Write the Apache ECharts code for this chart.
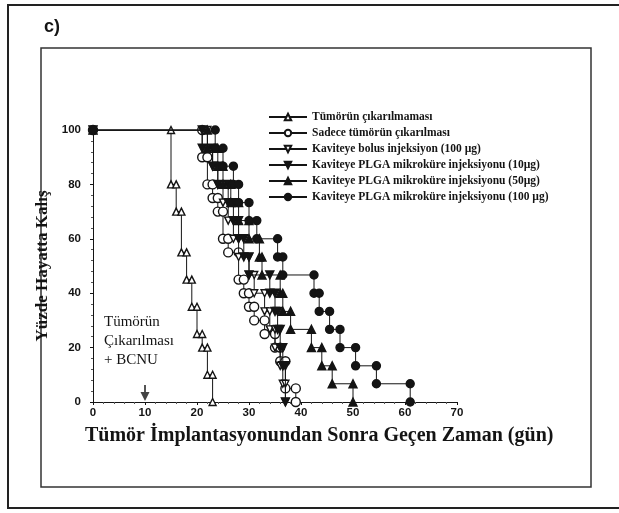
<!DOCTYPE html>
<html>
<head>
<meta charset="utf-8">
<script src="https://cdn.jsdelivr.net/npm/echarts@6/dist/echarts.min.js"></script>
<style>
  html, body { margin: 0; padding: 0; background: #fff; }
  #chart { width: 619px; height: 513px; }
</style>
</head>
<body>
<div id="chart"></div>
<script>
// Kaplan-Meier survival: drop days and survival (%) after each drop
const seriesNames = [
  'Tümörün çıkarılmaması',
  'Sadece tümörün çıkarılması',
  'Kaviteye bolus injeksiyon (100 µg)',
  'Kaviteye PLGA mikroküre injeksiyonu (10µg)',
  'Kaviteye PLGA mikroküre injeksiyonu (50µg)',
  'Kaviteye PLGA mikroküre injeksiyonu (100 µg)'
];

const noResectionDays = [15, 16, 17, 18, 19, 20, 21, 22, 23];
const noResectionSurv = [80, 70, 55, 45, 35, 25, 20, 10, 0];

const resectionDays = [21, 22, 23, 24, 25, 26, 28, 29, 30, 31, 33, 35, 36, 37, 39];
const resectionSurv = [90, 80, 75, 70, 60, 55, 45, 40, 35, 30, 25, 20, 15, 5, 0];

const bolusDays = [22, 23, 24, 25, 26, 27, 28, 30, 31, 33, 34, 35, 36, 36.5, 37];
const bolusSurv = [93.3, 86.7, 80, 73.3, 66.7, 60, 53.3, 46.7, 40, 33.3, 26.7, 20, 13.3, 6.7, 0];

const plga10Days = [21, 23, 24, 26, 27, 28, 29, 30, 34, 35, 35.5, 36, 36.5, 37];
const plga10Surv = [93.3, 86.7, 80, 73.3, 66.7, 60, 53.3, 46.7, 40, 33.3, 26.7, 20, 13.3, 0];

const plga50Days = [22, 24, 25, 26.5, 28, 30, 32, 32.5, 36, 36.5, 38, 42, 44, 46, 50];
const plga50Surv = [93.3, 86.7, 80, 73.3, 66.7, 60, 53.3, 46.7, 40, 33.3, 26.7, 20, 13.3, 6.7, 0];

const plga100Days = [23.5, 25, 27, 28, 30, 31.5, 35.5, 36.5, 42.5, 43.5, 45.5, 47.5, 50.5, 54.5, 61];
const plga100Surv = [93.3, 86.7, 80, 73.3, 66.7, 60, 53.3, 46.7, 40, 33.3, 26.7, 20, 13.3, 6.7, 0];

const xTicks = [0, 10, 20, 30, 40, 50, 60, 70];
const yTicks = [0, 20, 40, 60, 80, 100];
const bcnuDay = 10;
const noteLines = ['Tümörün', 'Çıkarılması', '+ BCNU'];

// Expand drops into step-curve vertices (both ends of every horizontal run)
function kmPoints(days, surv) {
  const pts = [[0, 100]];
  let prev = 100;
  for (let i = 0; i < days.length; i++) {
    pts.push([days[i], prev]);
    pts.push([days[i], surv[i]]);
    prev = surv[i];
  }
  return pts;
}

const INK = '#141414';
const serif = '"Liberation Serif", "DejaVu Serif", serif';
const sans = '"Liberation Sans", Arial, sans-serif';

const markerDefs = [
  { symbol: 'triangle', size: 7, fill: '#fff', rotate: 0 },
  { symbol: 'circle', size: 9, fill: '#fff', rotate: 0 },
  { symbol: 'triangle', size: 7, fill: '#fff', rotate: 180 },
  { symbol: 'triangle', size: 8, fill: INK, rotate: 180 },
  { symbol: 'triangle', size: 8, fill: INK, rotate: 0 },
  { symbol: 'circle', size: 8, fill: INK, rotate: 0 }
];

const curveData = [
  kmPoints(noResectionDays, noResectionSurv),
  kmPoints(resectionDays, resectionSurv),
  kmPoints(bolusDays, bolusSurv),
  kmPoints(plga10Days, plga10Surv),
  kmPoints(plga50Days, plga50Surv),
  kmPoints(plga100Days, plga100Surv)
];

const series = curveData.map((data, i) => ({
  name: seriesNames[i],
  type: 'line',
  data: data,
  symbol: markerDefs[i].symbol,
  symbolSize: markerDefs[i].size,
  symbolRotate: markerDefs[i].rotate,
  showAllSymbol: true,
  animation: false,
  lineStyle: { color: INK, width: 1 },
  itemStyle: { color: markerDefs[i].fill, borderColor: INK, borderWidth: 1.4 },
  emphasis: { disabled: true },
  z: 2 + i
}));

// arrow marking the BCNU day
series.push({
  type: 'scatter',
  data: [[bcnuDay, 0]],
  symbol: 'path://M4,0 L6,0 L6,8 L10,8 L5,18 L0,8 L4,8 Z',
  symbolSize: [9, 16],
  symbolOffset: [0, -9],
  itemStyle: { color: INK },
  silent: true,
  animation: false,
  z: 10
});

const chart = echarts.init(document.getElementById('chart'), null, { renderer: 'canvas' });

chart.setOption({
  backgroundColor: '#fff',
  animation: false,
  grid: { left: 93, right: 162, top: 130, bottom: 111 },
  legend: {
    data: seriesNames,
    orient: 'vertical',
    left: 263,
    top: 106,
    itemWidth: 38,
    itemHeight: 8,
    itemGap: 4,
    selectedMode: false,
    textStyle: { fontFamily: serif, fontWeight: 'bold', fontSize: 11.5, color: INK, lineHeight: 12 }
  },
  xAxis: {
    type: 'value',
    min: xTicks[0],
    max: xTicks[xTicks.length - 1],
    interval: 10,
    axisLine: { lineStyle: { color: INK, width: 1 } },
    axisTick: { show: true, length: 3, lineStyle: { color: INK } },
    minorTick: { show: true, splitNumber: 5, length: 2, lineStyle: { color: '#555' } },
    splitLine: { show: false },
    axisLabel: { color: INK, fontFamily: sans, fontWeight: 'bold', fontSize: 11.5, margin: 5 }
  },
  yAxis: {
    type: 'value',
    min: yTicks[0],
    max: yTicks[yTicks.length - 1],
    interval: 20,
    name: 'Yüzde Hayatta Kalış',
    nameLocation: 'middle',
    nameRotate: 90,
    nameGap: 37,
    nameTextStyle: { fontFamily: serif, fontWeight: 'bold', fontSize: 17, color: INK },
    axisLine: { lineStyle: { color: INK, width: 1 } },
    axisTick: { show: true, length: 3, lineStyle: { color: INK } },
    minorTick: { show: true, splitNumber: 5, length: 2, lineStyle: { color: '#555' } },
    splitLine: { show: false },
    axisLabel: { color: INK, fontFamily: sans, fontWeight: 'bold', fontSize: 11.5, margin: 12 }
  },
  graphic: [
    { type: 'rect', shape: { x: 8, y: 5, width: 640, height: 503 },
      style: { fill: 'none', stroke: '#222', lineWidth: 2 }, silent: true, z: 0 },
    { type: 'rect', shape: { x: 41, y: 48, width: 550, height: 439 },
      style: { fill: 'none', stroke: '#333', lineWidth: 1.5 }, silent: true, z: 0 },
    { type: 'text', left: 44, top: 18,
      style: { text: 'c)', font: 'bold 18px ' + sans, fill: INK } },
    { type: 'text', left: 85, top: 426,
      style: { text: 'Tümör İmplantasyonundan Sonra Geçen Zaman (gün)', font: 'bold 20px ' + serif, fill: INK } },
    { type: 'text', left: 104, top: 313,
      style: { text: noteLines.join('\n'), font: '15px ' + serif, lineHeight: 19, fill: INK } }
  ],
  series: series
});
</script>
</body>
</html>
